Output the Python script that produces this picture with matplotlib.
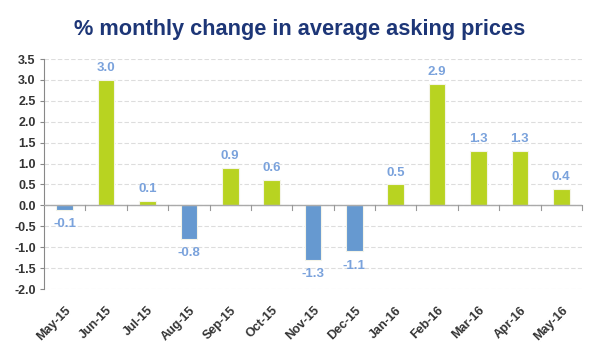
import matplotlib
matplotlib.use("Agg")
import matplotlib.pyplot as plt
import numpy as np

months = ["May-15", "Jun-15", "Jul-15", "Aug-15", "Sep-15", "Oct-15", "Nov-15",
          "Dec-15", "Jan-16", "Feb-16", "Mar-16", "Apr-16", "May-16"]
values = [-0.1, 3.0, 0.1, -0.8, 0.9, 0.6, -1.3, -1.1, 0.5, 2.9, 1.3, 1.3, 0.4]
yticks = [-2.0, -1.5, -1.0, -0.5, 0.0, 0.5, 1.0, 1.5, 2.0, 2.5, 3.0, 3.5]

plt.rcParams['font.family'] = ['Liberation Sans', 'DejaVu Sans']

GREEN = "#b8d321"
BLUE = "#6699d0"
LABEL = "#7aa2dc"

fig = plt.figure(figsize=(6, 3.59), dpi=100)
ax = fig.add_axes([44/600, 1-289/359, (582-44)/600, (289-59)/359])

x = np.arange(len(months))
colors = [GREEN if v >= 0 else BLUE for v in values]
ax.bar(x, values, width=0.4, color=colors, edgecolor="#f4f4e8", linewidth=0.8, zorder=3)

for xi, v in zip(x, values):
    off = 0.14 if v >= 0 else -0.2
    ax.text(xi, v + off, f"{v:.1f}", ha="center", va="bottom" if v >= 0 else "top",
            color=LABEL, fontsize=9.5, fontweight="bold")

ax.set_xlim(-0.5, len(months) - 0.5)
ax.set_ylim(-2.0, 3.5)
ax.set_yticks(yticks)
ax.set_yticklabels([f"{t:.1f}" for t in yticks], fontsize=9, fontweight="bold", color="#333333")
ax.yaxis.grid(True, linestyle=(0, (4, 2)), color="#dddddd", linewidth=0.8, zorder=0)
ax.tick_params(axis="y", length=3, color="#888888", pad=3)

for s in ["top", "right", "bottom"]:
    ax.spines[s].set_visible(False)
ax.spines["left"].set_color("#888888")

ax.axhline(0, color="#aaaaaa", linewidth=1.0, zorder=4)
for b in np.arange(0.5, len(months) - 0.5 + 1e-9, 1.0):
    ax.plot([b, b], [0, -0.1], color="#999999", linewidth=0.8, zorder=4, clip_on=False)

ax.set_xticks(x)
ax.set_xticklabels(months, rotation=45, ha="right", rotation_mode="anchor",
                   fontsize=9, fontweight="bold", color="#333333")
ax.tick_params(axis="x", length=0, pad=11)

fig.text(0.5, 1 - 30/359, "% monthly change in average asking prices", ha="center", va="center",
         fontsize=15.7, fontweight="bold", color="#1d3677")

fig.savefig("out.png", dpi=100, facecolor="white")
